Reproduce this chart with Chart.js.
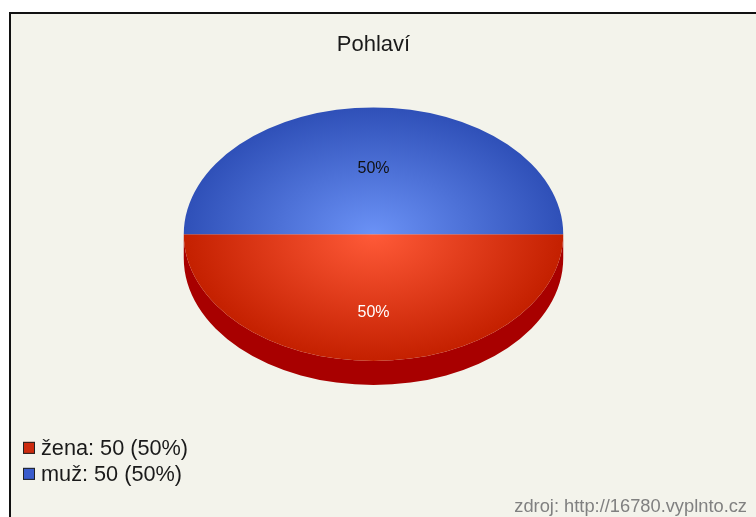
<!DOCTYPE html>
<html>
<head>
<meta charset="utf-8">
<script src="https://cdn.jsdelivr.net/npm/chart.js@4.4.0/dist/chart.umd.min.js"></script>
<style>
  html, body { margin: 0; padding: 0; background: #fff; overflow: hidden; }
  #frame { position: absolute; left: 9px; top: 12px; width: 760px; height: 520px;
           border-left: 2px solid #111; border-top: 2px solid #111; background: #f3f3eb; }
  #chart1 { position: absolute; left: 0; top: 0; }
</style>
</head>
<body>
<div id="frame"></div>
<canvas id="chart1" width="756" height="517"></canvas>
<script>
const chartTitle = 'Pohlaví';
const sourceText = 'zdroj: http://16780.vyplnto.cz';
const categories = ['žena', 'muž'];
const counts = [50, 50];
const percents = [50, 50];

// styles
const faceColors = [['#ff5a38', '#c42000'], ['#6b92f6', '#2f50b8']]; // centre, edge
const sideColors = ['#a80000', '#1f3a8a'];
const labelColors = ['#ffffff', '#111111'];
const boxColors = ['#cc2a0e', '#3a5ccc'];

Chart.defaults.font.family = '"Liberation Sans", Arial, sans-serif';

// squash the pie into an ellipse and give it a front wall
const pie3d = {
    id: 'pie3d',
    beforeDatasetsDraw(chart, args, opts) {
        const ctx = chart.ctx;
        const top = chart.chartArea.top;
        ctx.save();
        ctx.translate(0, top);
        ctx.scale(1, opts.tilt);
        ctx.translate(0, -top);
        const shift = opts.depth / opts.tilt;
        chart.getDatasetMeta(0).data.forEach((arc, i) => {
            let a0 = arc.startAngle % (2 * Math.PI);
            if (a0 < 0) a0 += 2 * Math.PI;
            const a1 = a0 + (arc.endAngle - arc.startAngle);
            [0, 2 * Math.PI].forEach(base => {
                const s = Math.max(a0, base);
                const e = Math.min(a1, base + Math.PI);
                if (e <= s) return;
                ctx.beginPath();
                ctx.arc(arc.x, arc.y, arc.outerRadius, s, e);
                ctx.arc(arc.x, arc.y + shift, arc.outerRadius, e, s, true);
                ctx.closePath();
                ctx.fillStyle = opts.sideColors[i];
                ctx.fill();
            });
        });
    },
    afterDatasetsDraw(chart, args, opts) {
        const ctx = chart.ctx;
        ctx.restore();
        const top = chart.chartArea.top;
        chart.getDatasetMeta(0).data.forEach((arc, i) => {
            const mid = (arc.startAngle + arc.endAngle) / 2;
            const r = arc.outerRadius * opts.labelRadius;
            const x = arc.x + Math.cos(mid) * r;
            let y = top + (arc.y + Math.sin(mid) * r - top) * opts.tilt;
            if (Math.sin(mid) > 0) y += opts.depth / 2;
            ctx.save();
            ctx.font = '16px "Liberation Sans", Arial, sans-serif';
            ctx.fillStyle = opts.labelColors[i];
            ctx.textAlign = 'center';
            ctx.textBaseline = 'middle';
            ctx.fillText(percents[i] + '%', x, y);
            ctx.restore();
        });
    }
};

const boxLegend = {
    id: 'boxLegend',
    afterDraw(chart, args, opts) {
        const ctx = chart.ctx;
        const area = chart.chartArea;
        ctx.save();
        ctx.font = opts.font;
        ctx.textBaseline = 'middle';
        categories.forEach((name, i) => {
            const y = area.bottom - opts.bottom - (categories.length - 1 - i) * opts.rowHeight;
            ctx.fillStyle = opts.colors[i];
            ctx.fillRect(opts.left, y - 6, 12, 12);
            ctx.strokeStyle = '#222';
            ctx.lineWidth = 1;
            ctx.strokeRect(opts.left + 0.5, y - 5.5, 11, 11);
            ctx.fillStyle = '#1a1a1a';
            ctx.fillText(name + ': ' + counts[i] + ' (' + percents[i] + '%)', opts.left + 18, y + 1);
        });
        ctx.restore();
    }
};

function faceGradient(c) {
    const a = c.chart.chartArea;
    const pair = faceColors[c.dataIndex];
    if (!a) return pair[1];
    const cx = (a.left + a.right) / 2, cy = (a.top + a.bottom) / 2;
    const r = Math.min(a.right - a.left, a.bottom - a.top) / 2;
    const g = c.chart.ctx.createRadialGradient(cx, cy, 0, cx, cy, r);
    g.addColorStop(0, pair[0]);
    g.addColorStop(1, pair[1]);
    return g;
}

new Chart('chart1', {
    type: 'pie',
    data: {
        labels: categories,
        datasets: [{
            data: counts,
            backgroundColor: faceGradient,
            borderWidth: 0
        }]
    },
    options: {
        responsive: false,
        animation: false,
        events: [],
        rotation: 90,
        layout: { padding: { left: 0, right: 9, top: 0, bottom: 0 } },
        plugins: {
            legend: { display: false },
            tooltip: { enabled: false },
            title: {
                display: true,
                text: chartTitle,
                color: '#1a1a1a',
                font: { size: 22, weight: 'normal' },
                padding: { top: 32, bottom: 49 }
            },
            subtitle: {
                display: true,
                text: sourceText,
                position: 'bottom',
                align: 'end',
                color: '#808080',
                font: { size: 18.3, lineHeight: 1.1 },
                padding: { top: 10, bottom: 0 }
            },
            pie3d: { tilt: 127 / 190, depth: 24, labelRadius: 0.52, sideColors, labelColors },
            boxLegend: { left: 23, bottom: 13, rowHeight: 26, colors: boxColors, font: '21.7px "Liberation Sans", Arial, sans-serif' }
        }
    },
    plugins: [pie3d, boxLegend]
});
</script>
</body>
</html>
